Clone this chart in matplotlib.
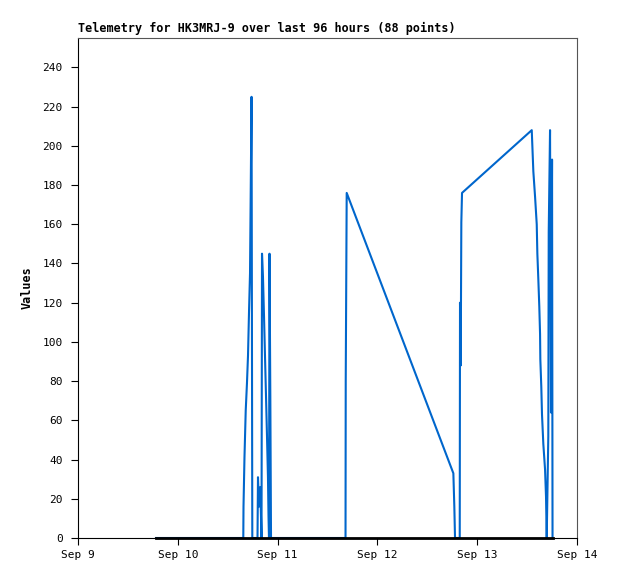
import matplotlib
matplotlib.use('Agg')
import matplotlib.pyplot as plt
from datetime import datetime

# telemetry samples (blue series)
times = [
    "09 18:45", "10 15:45", "10 15:48", "10 16:02", "10 16:20", "10 16:38", "10 16:53",
    "10 17:08", "10 17:22", "10 17:34", "10 17:44", "10 17:55", "10 19:10", "10 19:17",
    "10 19:32", "10 19:50", "10 20:01", "10 20:08", "10 20:15", "10 20:29", "10 20:44",
    "10 20:58", "10 21:13", "10 21:27", "10 21:41", "10 21:49", "10 21:56", "10 22:03",
    "10 22:15", "10 22:25", "11 16:20", "11 16:23", "11 16:37", "12 18:16", "12 18:30",
    "12 18:40", "12 19:48", "12 19:52", "12 20:02", "12 20:11", "12 20:21", "13 13:07",
    "13 13:30", "13 13:55", "13 14:19", "13 14:28", "13 14:42", "13 14:56", "13 15:07",
    "13 15:11", "13 15:25", "13 15:35", "13 15:54", "13 16:19", "13 16:33", "13 16:43",
    "13 17:06", "13 17:12", "13 17:31", "13 17:45", "13 18:00", "13 18:07",
]
values = [
    0, 0, 16, 41, 65, 79, 93,
    116, 135, 184, 225, 0, 0, 31,
    16, 26, 10, 0, 145, 133, 113,
    93, 72, 52, 31, 11, 0, 145,
    72, 0, 0, 80, 176, 33, 16,
    0, 0, 120, 88, 161, 176, 208,
    187, 174, 160, 145, 132, 118, 104,
    91, 77, 63, 48, 35, 21, 0,
    52, 156, 208, 64, 193, 0,
]
zero_values = [0] * len(values)

tick_days = [9, 10, 11, 12, 13, 14]
tick_labels = ["Sep 9", "Sep 10", "Sep 11", "Sep 12", "Sep 13", "Sep 14"]

dates = [datetime.strptime("2023-09-" + t, "%Y-%m-%d %H:%M") for t in times]

plt.rcParams['font.family'] = ['DejaVu Sans Mono']

fig = plt.figure(figsize=(6.18, 5.79), dpi=100)
ax = fig.add_axes([78/618, 1-538/579, (577-78)/618, (538-38)/579])

ax.plot(dates, values, color='#0066CC', lw=1.5)
ax.plot(dates, zero_values, color='black', lw=2, clip_on=False, zorder=3)

ax.set_ylim(0, 255)
ax.set_yticks(range(0, 241, 20))
ax.set_xlim(datetime(2023, 9, 9), datetime(2023, 9, 14))
ax.set_xticks([datetime(2023, 9, d) for d in tick_days])
ax.set_xticklabels(tick_labels)
ax.tick_params(labelsize=8, length=5, color='black')
ax.tick_params(axis='x', pad=4)
ax.tick_params(axis='y', pad=6)
for s in ax.spines.values():
    s.set_color('#555555')
ax.spines['bottom'].set_color('black')
ax.spines['left'].set_color('black')

ax.set_title('Telemetry for HK3MRJ-9 over last 96 hours (88 points)',
             loc='left', fontsize=8.5, fontweight='bold', pad=4)
ax.set_ylabel('Values', fontsize=8.5, fontweight='bold', labelpad=6)

fig.savefig('out.png', dpi=100)
